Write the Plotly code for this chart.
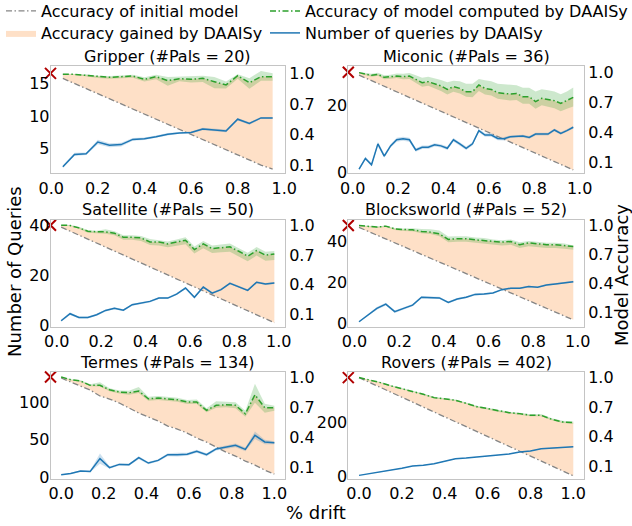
import plotly.graph_objects as go

# ---------------- data ----------------
gripper_x = [0.05, 0.10, 0.15, 0.20, 0.25, 0.30, 0.35, 0.40, 0.45, 0.50, 0.55, 0.60, 0.65, 0.70, 0.75, 0.80, 0.85, 0.90, 0.95]
gripper_queries = [2.2, 4.1, 4.2, 6.0, 5.5, 5.6, 6.4, 6.5, 6.8, 7.2, 7.4, 7.45, 8.0, 7.9, 7.7, 9.5, 8.85, 9.7, 9.7]
gripper_queries_err = [0.2, 0.25, 0.2, 0.35, 0.3, 0.3, 0.2, 0.2, 0.2, 0.2, 0.15, 0.15, 0.2, 0.2, 0.2, 0.2, 0.2, 0.15, 0.15]
gripper_initial = [0.95, 0.90, 0.85, 0.80, 0.75, 0.70, 0.65, 0.60, 0.55, 0.50, 0.45, 0.40, 0.35, 0.30, 0.25, 0.20, 0.15, 0.10, 0.06]
gripper_acc = [0.99, 0.99, 0.98, 0.967, 0.961, 0.967, 0.974, 0.941, 0.967, 0.928, 0.948, 0.941, 0.951, 0.918, 0.886, 0.977, 0.908, 0.967, 0.967]
gripper_acc_lo = [0.005, 0.005, 0.01, 0.012, 0.015, 0.015, 0.018, 0.02, 0.025, 0.05, 0.025, 0.03, 0.035, 0.065, 0.035, 0.03, 0.06, 0.04, 0.04]
gripper_acc_hi = [0.005, 0.005, 0.01, 0.01, 0.012, 0.012, 0.012, 0.02, 0.018, 0.035, 0.02, 0.025, 0.025, 0.045, 0.035, 0.015, 0.045, 0.055, 0.035]

miconic_x = [0.028, 0.056, 0.083, 0.111, 0.139, 0.167, 0.194, 0.222, 0.250, 0.278, 0.306, 0.333, 0.361, 0.389, 0.417, 0.444, 0.472, 0.500,
             0.528, 0.556, 0.583, 0.611, 0.639, 0.667, 0.694, 0.722, 0.750, 0.778, 0.806, 0.833, 0.861, 0.889, 0.917, 0.944, 0.972]
miconic_queries = [1.0, 4.2, 2.3, 8.5, 4.9, 7.9, 9.7, 10.0, 9.7, 6.7, 7.5, 7.5, 8.2, 7.9, 7.2, 9.7, 8.5, 7.2,
                   8.5, 12.4, 11.1, 11.1, 10.1, 10.0, 10.6, 10.8, 10.8, 10.4, 11.4, 11.4, 11.4, 12.6, 11.6, 12.4, 13.4]
miconic_queries_err = [0.3, 0.5, 0.4, 0.6, 0.5, 0.5, 0.6, 0.6, 0.6, 0.5, 0.5, 0.5, 0.5, 0.5, 0.5, 0.5, 0.5, 0.5,
                       0.5, 0.5, 0.5, 0.5, 0.5, 0.5, 0.4, 0.4, 0.4, 0.4, 0.4, 0.4, 0.4, 0.4, 0.4, 0.4, 0.4]
miconic_initial = [0.972, 0.944, 0.917, 0.889, 0.861, 0.833, 0.806, 0.778, 0.750, 0.722, 0.694, 0.667, 0.639, 0.611, 0.583, 0.556, 0.528, 0.500,
                   0.472, 0.444, 0.417, 0.389, 0.361, 0.333, 0.306, 0.278, 0.250, 0.222, 0.194, 0.167, 0.139, 0.111, 0.083, 0.056, 0.028]
miconic_acc = [0.997, 0.983, 0.97, 0.98, 0.95, 0.957, 0.963, 0.957, 0.963, 0.93, 0.897, 0.907, 0.884, 0.864, 0.83, 0.857, 0.84, 0.807,
               0.807, 0.874, 0.84, 0.83, 0.797, 0.79, 0.784, 0.79, 0.757, 0.757, 0.708, 0.741, 0.731, 0.718, 0.691, 0.718, 0.75]
miconic_acc_lo = [0.005, 0.01, 0.015, 0.015, 0.02, 0.02, 0.02, 0.025, 0.03, 0.035, 0.04, 0.04, 0.045, 0.05, 0.05, 0.05, 0.05, 0.05,
                  0.055, 0.06, 0.06, 0.06, 0.06, 0.065, 0.065, 0.065, 0.07, 0.07, 0.07, 0.07, 0.075, 0.075, 0.08, 0.08, 0.09]
miconic_acc_hi = [0.005, 0.01, 0.015, 0.015, 0.02, 0.02, 0.025, 0.03, 0.03, 0.04, 0.05, 0.05, 0.06, 0.06, 0.07, 0.06, 0.07, 0.08,
                  0.08, 0.06, 0.08, 0.08, 0.09, 0.09, 0.09, 0.08, 0.09, 0.09, 0.1, 0.09, 0.09, 0.09, 0.09, 0.09, 0.1]

satellite_x = [0.02, 0.06, 0.10, 0.14, 0.18, 0.22, 0.26, 0.30, 0.34, 0.38, 0.42, 0.46, 0.50, 0.54, 0.58, 0.62, 0.66, 0.70, 0.74, 0.78, 0.82, 0.86, 0.90, 0.94, 0.98]
satellite_queries = [2.0, 4.8, 3.3, 3.3, 4.4, 6.1, 7.0, 6.2, 8.4, 9.0, 9.7, 11.0, 11.0, 12.6, 15.0, 11.3, 15.4, 13.0, 14.4, 16.9, 15.4, 14.1, 17.3, 16.6, 17.0]
satellite_queries_err = [0.4, 0.5, 0.4, 0.4, 0.4, 0.4, 0.4, 0.4, 0.4, 0.4, 0.4, 0.4, 0.4, 0.4, 0.4, 0.4, 0.4, 0.4, 0.4, 0.4, 0.4, 0.4, 0.4, 0.4, 0.4]
satellite_initial = [0.98, 0.94, 0.90, 0.86, 0.82, 0.78, 0.74, 0.70, 0.66, 0.62, 0.58, 0.54, 0.50, 0.46, 0.42, 0.38, 0.34, 0.30, 0.26, 0.22, 0.18, 0.14, 0.10, 0.06, 0.02]
satellite_acc = [1.0, 0.997, 0.973, 0.94, 0.933, 0.933, 0.919, 0.879, 0.879, 0.872, 0.832, 0.832, 0.812, 0.832, 0.849, 0.755, 0.812, 0.765, 0.772, 0.782, 0.738, 0.688, 0.745, 0.698, 0.711]
satellite_acc_lo = [0.003, 0.005, 0.01, 0.015, 0.015, 0.02, 0.02, 0.025, 0.025, 0.03, 0.03, 0.035, 0.035, 0.04, 0.04, 0.04, 0.045, 0.045, 0.045, 0.05, 0.05, 0.05, 0.05, 0.055, 0.06]
satellite_acc_hi = [0.003, 0.005, 0.01, 0.01, 0.012, 0.025, 0.02, 0.02, 0.02, 0.02, 0.03, 0.02, 0.025, 0.025, 0.03, 0.03, 0.03, 0.03, 0.035, 0.035, 0.03, 0.035, 0.035, 0.035, 0.03]

blocks_x = [0.02, 0.06, 0.10, 0.14, 0.18, 0.22, 0.26, 0.30, 0.34, 0.38, 0.42, 0.46, 0.50, 0.54, 0.58, 0.62, 0.66, 0.70, 0.74, 0.78, 0.82, 0.86, 0.90, 0.94, 0.98]
blocks_queries = [0.8, 4.1, 7.3, 9.4, 5.7, 7.3, 8.9, 12.7, 12.4, 12.4, 10.2, 11.9, 12.7, 14.1, 14.3, 14.8, 16.4, 17.1, 17.1, 17.9, 17.6, 18.7, 19.2, 19.7, 20.3]
blocks_queries_err = [0.3, 0.5, 0.7, 0.7, 0.6, 0.5, 0.5, 0.5, 0.5, 0.5, 0.5, 0.5, 0.5, 0.5, 0.5, 0.4, 0.4, 0.4, 0.4, 0.4, 0.4, 0.4, 0.4, 0.4, 0.4]
blocks_initial = [0.98, 0.94, 0.90, 0.86, 0.82, 0.78, 0.74, 0.70, 0.66, 0.62, 0.58, 0.54, 0.50, 0.46, 0.42, 0.38, 0.34, 0.30, 0.26, 0.22, 0.18, 0.14, 0.10, 0.06, 0.02]
blocks_acc = [1.0, 0.99, 0.983, 0.993, 0.965, 0.958, 0.955, 0.938, 0.931, 0.913, 0.855, 0.862, 0.862, 0.851, 0.844, 0.834, 0.827, 0.834, 0.8, 0.82, 0.81, 0.8, 0.8, 0.792, 0.782]
blocks_acc_lo = [0.003, 0.005, 0.008, 0.01, 0.012, 0.015, 0.015, 0.02, 0.02, 0.025, 0.03, 0.03, 0.03, 0.03, 0.03, 0.03, 0.035, 0.035, 0.035, 0.035, 0.035, 0.035, 0.035, 0.035, 0.035]
blocks_acc_hi = [0.003, 0.005, 0.008, 0.005, 0.01, 0.01, 0.015, 0.025, 0.03, 0.035, 0.03, 0.025, 0.025, 0.025, 0.025, 0.02, 0.02, 0.02, 0.025, 0.02, 0.02, 0.02, 0.02, 0.02, 0.01]

termes_x = [0.0, 0.045, 0.091, 0.136, 0.182, 0.227, 0.273, 0.318, 0.364, 0.409, 0.455, 0.5, 0.545, 0.591, 0.636, 0.682, 0.727, 0.773, 0.818, 0.864, 0.909, 0.955, 1.0]
termes_queries = [3.1, 4.9, 8.1, 7.6, 24.7, 12.6, 17.0, 16.6, 26.0, 18.8, 22.4, 30.0, 30.0, 30.5, 34.5, 30.0, 37.7, 40.4, 42.6, 37.2, 56.1, 47.1, 46.2]
termes_queries_err = [0.5, 0.8, 1.2, 1.2, 7.0, 1.5, 1.5, 1.5, 2.0, 1.5, 1.5, 2.0, 2.5, 2.0, 2.0, 2.0, 2.0, 2.0, 2.5, 2.5, 5.0, 3.0, 2.0]
termes_initial = [0.99, 0.95, 0.91, 0.87, 0.81, 0.78, 0.74, 0.69, 0.64, 0.60, 0.56, 0.51, 0.48, 0.44, 0.39, 0.35, 0.30, 0.25, 0.21, 0.16, 0.12, 0.07, 0.03]
termes_acc = [1.0, 0.973, 0.96, 0.917, 0.917, 0.873, 0.85, 0.843, 0.86, 0.783, 0.79, 0.783, 0.773, 0.75, 0.75, 0.667, 0.717, 0.723, 0.717, 0.633, 0.823, 0.693, 0.693]
termes_acc_lo = [0.003, 0.005, 0.008, 0.01, 0.012, 0.015, 0.015, 0.02, 0.02, 0.02, 0.02, 0.02, 0.02, 0.02, 0.02, 0.02, 0.025, 0.025, 0.03, 0.03, 0.08, 0.05, 0.03]
termes_acc_hi = [0.003, 0.005, 0.008, 0.01, 0.03, 0.015, 0.015, 0.02, 0.04, 0.02, 0.02, 0.02, 0.02, 0.02, 0.025, 0.02, 0.04, 0.03, 0.03, 0.03, 0.11, 0.04, 0.02]

rovers_x = [0.0, 0.05, 0.10, 0.15, 0.20, 0.25, 0.30, 0.35, 0.40, 0.45, 0.50, 0.55, 0.60, 0.65, 0.70, 0.75, 0.80, 0.85, 0.90, 0.95, 1.0]
rovers_queries = [2.5, 9.0, 15.0, 21.0, 29.0, 37.5, 40.0, 46.0, 55.0, 65.0, 67.5, 70.0, 75.0, 79.0, 82.5, 90.0, 94.0, 102.0, 104.0, 106.0, 110.0]
rovers_queries_err = [0.5, 0.8, 1.0, 1.0, 1.0, 1.0, 1.0, 1.0, 1.0, 1.0, 1.0, 1.0, 1.0, 1.0, 1.0, 1.0, 1.0, 1.0, 1.0, 1.0, 1.0]
rovers_initial = [1.0, 0.95, 0.90, 0.85, 0.80, 0.75, 0.70, 0.65, 0.60, 0.55, 0.50, 0.45, 0.40, 0.35, 0.30, 0.25, 0.20, 0.15, 0.10, 0.05, 0.0]
rovers_acc = [1.0, 0.976, 0.949, 0.915, 0.888, 0.864, 0.83, 0.796, 0.786, 0.769, 0.738, 0.704, 0.684, 0.66, 0.643, 0.633, 0.616, 0.616, 0.575, 0.548, 0.541]
rovers_acc_lo = [0.002, 0.004, 0.005, 0.006, 0.006, 0.007, 0.007, 0.008, 0.008, 0.008, 0.008, 0.008, 0.008, 0.01, 0.01, 0.01, 0.01, 0.01, 0.01, 0.01, 0.01]
rovers_acc_hi = [0.002, 0.004, 0.005, 0.006, 0.006, 0.007, 0.007, 0.008, 0.008, 0.008, 0.008, 0.008, 0.008, 0.01, 0.01, 0.01, 0.01, 0.012, 0.012, 0.012, 0.012]

panel_titles = ["Gripper (#Pals = 20)", "Miconic (#Pals = 36)", "Satellite (#Pals = 50)",
                "Blocksworld (#Pals = 52)", "Termes (#Pals = 134)", "Rovers (#Pals = 402)"]
query_ticks = [[5, 10, 15], [0, 20], [0, 20, 40], [0, 20, 40], [0, 50, 100], [0, 200]]
acc_ticks = [0.1, 0.4, 0.7, 1.0]
drift_ticks = [0.0, 0.2, 0.4, 0.6, 0.8, 1.0]

panels = [
    (gripper_x, gripper_queries, gripper_queries_err, gripper_initial, gripper_acc, gripper_acc_lo, gripper_acc_hi),
    (miconic_x, miconic_queries, miconic_queries_err, miconic_initial, miconic_acc, miconic_acc_lo, miconic_acc_hi),
    (satellite_x, satellite_queries, satellite_queries_err, satellite_initial, satellite_acc, satellite_acc_lo, satellite_acc_hi),
    (blocks_x, blocks_queries, blocks_queries_err, blocks_initial, blocks_acc, blocks_acc_lo, blocks_acc_hi),
    (termes_x, termes_queries, termes_queries_err, termes_initial, termes_acc, termes_acc_lo, termes_acc_hi),
    (rovers_x, rovers_queries, rovers_queries_err, rovers_initial, rovers_acc, rovers_acc_lo, rovers_acc_hi),
]

# ---------------- layout / style ----------------
W, H = 632, 526
FONT = "DejaVu Sans"
col_px = [(50.5, 285.0), (348.3, 584.0)]
row_px = [(66.0, 173.3), (219.5, 326.5), (372.0, 478.7)]
title_px = [56.7, 210.0, 362.7]
x_ranges = [[-0.003, 1.003], [-0.0194, 1.0194], [-0.028, 1.028], [-0.028, 1.028], [-0.05, 1.05], [-0.05, 1.05]]
query_ranges = [[1.2, 17.66], [-0.2, 31.5], [-0.3, 42.3], [-1.5, 50.5], [-2.2, 141], [-10, 390]]
acc_ranges = [[0.019, 1.072], [-0.006, 1.063], [-0.018, 1.057], [-0.049, 1.062], [-0.016, 1.05], [-0.03, 1.057]]
# legend slots: (x px of legend box, y px of legend box top)
legend_slots = {"legend": (1, -6), "legend2": (265, -6), "legend3": (1, 16), "legend4": (265, 16)}

C_GAIN = "rgba(253,186,130,0.45)"
C_GREEN = "#2ca02c"
C_GREEN_BAND = "rgba(44,160,44,0.24)"
C_BLUE = "#1f77b4"
C_BLUE_BAND = "rgba(31,119,180,0.22)"
C_INIT = "#858585"
C_FRAME = "#c4c4c4"
DASHDOT = "6px,2.5px,1.5px,2.5px"

fig = go.Figure()
layout = dict(width=W, height=H, margin=dict(l=0, r=0, t=0, b=0, autoexpand=False),
              paper_bgcolor="white", plot_bgcolor="white",
              font=dict(family=FONT, size=16, color="black"),
              showlegend=True)
annotations = []

for i, (x, q, qe, init, acc, alo, ahi) in enumerate(panels):
    r, c = divmod(i, 2)
    x0, x1 = col_px[c]
    y0, y1 = row_px[r]
    xdom = [x0 / W, x1 / W]
    ydom = [1 - y1 / H, 1 - y0 / H]
    xa = f"x{i+1}" if i else "x"
    ya_acc = f"y{2*i+1}" if i else "y"
    ya_q = f"y{2*i+2}"
    xkey = f"xaxis{i+1}" if i else "xaxis"
    ykey_acc = f"yaxis{2*i+1}" if i else "yaxis"
    ykey_q = f"yaxis{2*i+2}"
    xr = x_ranges[i]

    layout[xkey] = dict(domain=xdom, anchor=ya_acc, range=xr, tickvals=drift_ticks, tickformat=".1f",
                        showgrid=False, zeroline=False, showline=True, mirror=True, automargin=False,
                        linecolor=C_FRAME, linewidth=1, ticks="", tickfont=dict(size=16))
    layout[ykey_acc] = dict(domain=ydom, anchor=xa, side="right", range=acc_ranges[i], tickvals=acc_ticks,
                            tickformat=".1f", showgrid=False, zeroline=False, showline=True, mirror=True,
                            automargin=False, linecolor=C_FRAME, linewidth=1, ticks="", tickfont=dict(size=16))
    layout[ykey_q] = dict(overlaying=ya_acc, anchor=xa, side="left", range=query_ranges[i],
                          tickvals=query_ticks[i], showgrid=False, zeroline=False, showline=False,
                          automargin=False, ticks="", tickfont=dict(size=16))

    first = (i == 0)
    # accuracy gained (fill between initial and DAAISy accuracy)
    fig.add_trace(go.Scatter(x=list(x) + list(x)[::-1], y=list(acc) + list(init)[::-1],
                             fill="toself", fillcolor=C_GAIN, line=dict(width=0), mode="lines",
                             name="Accuracy gained by DAAISy", legend="legend3", showlegend=first,
                             hoverinfo="skip", xaxis=xa, yaxis=ya_acc))
    # DAAISy accuracy band
    hi = [a + e for a, e in zip(acc, ahi)]
    lo = [a - e for a, e in zip(acc, alo)]
    fig.add_trace(go.Scatter(x=list(x) + list(x)[::-1], y=hi + lo[::-1],
                             fill="toself", fillcolor=C_GREEN_BAND, line=dict(width=0), mode="lines",
                             showlegend=False, hoverinfo="skip", xaxis=xa, yaxis=ya_acc))
    # initial model accuracy
    fig.add_trace(go.Scatter(x=x, y=init, mode="lines", line=dict(color=C_INIT, width=1.3, dash=DASHDOT),
                             name="Accuracy of initial model", legend="legend", showlegend=first,
                             xaxis=xa, yaxis=ya_acc))
    # DAAISy accuracy
    fig.add_trace(go.Scatter(x=x, y=acc, mode="lines", line=dict(color=C_GREEN, width=1.5, dash=DASHDOT),
                             name="Accuracy of model computed by DAAISy", legend="legend2", showlegend=first,
                             xaxis=xa, yaxis=ya_acc))
    # queries band
    qhi = [v + e for v, e in zip(q, qe)]
    qlo = [v - e for v, e in zip(q, qe)]
    fig.add_trace(go.Scatter(x=list(x) + list(x)[::-1], y=qhi + qlo[::-1],
                             fill="toself", fillcolor=C_BLUE_BAND, line=dict(width=0), mode="lines",
                             showlegend=False, hoverinfo="skip", xaxis=xa, yaxis=ya_q))
    fig.add_trace(go.Scatter(x=x, y=q, mode="lines", line=dict(color=C_BLUE, width=1.5),
                             name="Number of queries by DAAISy", legend="legend4", showlegend=first,
                             xaxis=xa, yaxis=ya_q))
    # red cross: initial model accuracy before drift, at the left edge
    fig.add_trace(go.Scatter(x=[xr[0]], y=[1.0], mode="markers", cliponaxis=False,
                             marker=dict(symbol="x-thin", size=11, line=dict(width=2, color="#b00000")),
                             showlegend=False, hoverinfo="skip", xaxis=xa, yaxis=ya_acc))

    annotations.append(dict(text=panel_titles[i], x=(xdom[0] + xdom[1]) / 2, y=1 - title_px[r] / H,
                            xref="paper", yref="paper", xanchor="center", yanchor="middle",
                            showarrow=False, font=dict(size=16)))

annotations += [
    dict(text="Number of Queries", x=14 / W, y=1 - 272 / H, xref="paper", yref="paper",
         textangle=-90, showarrow=False, font=dict(size=18), xanchor="center", yanchor="middle"),
    dict(text="Model Accuracy", x=621 / W, y=1 - 275 / H, xref="paper", yref="paper",
         textangle=-90, showarrow=False, font=dict(size=18), xanchor="center", yanchor="middle"),
    dict(text="% drift", x=0.5, y=1 - 512 / H, xref="paper", yref="paper",
         showarrow=False, font=dict(size=18), xanchor="center", yanchor="middle"),
]
layout["annotations"] = annotations
for key, (lx, ly) in legend_slots.items():
    layout[key] = dict(orientation="h", xanchor="left", yanchor="top", xref="paper", yref="paper",
                       x=lx / W, y=1 - ly / H, font=dict(size=16),
                       bgcolor="rgba(0,0,0,0)", tracegroupgap=0)
fig.update_layout(**layout)
fig.write_html("out.html", config={"displayModeBar": False},
               post_script="document.body.style.margin='0px';document.body.style.overflow='hidden';")
